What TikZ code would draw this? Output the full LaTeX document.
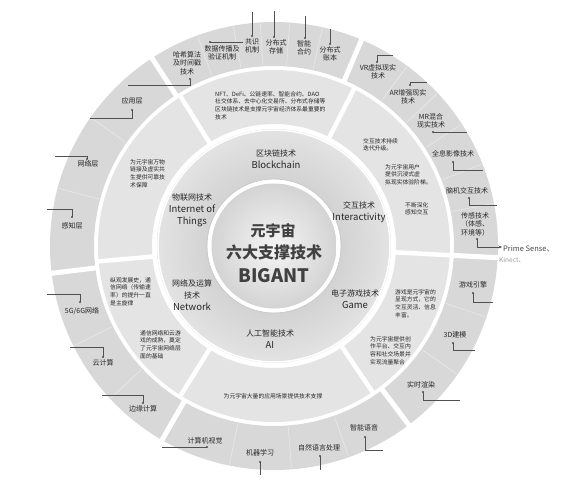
\documentclass[tikz,border=0pt]{standalone}
\usepackage{fontspec}
\setmainfont{Noto Sans CJK SC}
\usetikzlibrary{arrows.meta}
\definecolor{txt}{HTML}{262626}
\definecolor{ldr}{HTML}{505050}
\definecolor{ringO}{HTML}{D8D8D8}
\definecolor{ringM}{HTML}{E4E4E4}
\definecolor{ringI}{HTML}{D0D0D0}
\begin{document}
\begin{tikzpicture}[x=1pt,y=-1pt,
  lbl/.style={text=txt, font=\fontsize{7}{8.5}\selectfont, align=center, inner sep=0pt},
  desc/.style={text=txt, font=\fontsize{5.8}{7.7}\selectfont, align=left, inner sep=0pt, anchor=north west},
  tech/.style={text=txt, font=\fontsize{8}{12}\selectfont, align=center, inner sep=0pt},
  core/.style={text=black!75, font=\bfseries, align=center, inner sep=0pt},
  ldrline/.style={draw=ldr, line width=0.6pt},
  ldot/.style={circle, fill=ldr, inner sep=0pt, minimum size=2.2pt},
]
\useasboundingbox (0,0) rectangle (571,498);
\fill[white] (0,0) rectangle (571,498);

\begin{scope}[shift={(274,246)}, y=1pt]
  % outer ring
  \fill[ringO, even odd rule] (0,0) circle (224) (0,0) circle (180);
  % description ring
  \fill[ringM, even odd rule] (0,0) circle (176) (0,0) circle (122);
  % technology ring
  \shade[even odd rule, inner color=black!26, outer color=black!11] (0,0) circle (117) (0,0) circle (67);
  \draw[white, line width=1.5pt] (0,0) circle (116);
  % centre disc
  \draw[black!20, line width=1pt] (0,0) circle (67);
  \fill[white] (0,0) circle (66.3);
  \shade[inner color=black!4, outer color=black!17] (0,0) circle (62.5);
  % group separators
  \foreach \a in {123,67,-3,-53,-120,187}
    \draw[white, line width=5pt] (\a:177) -- (\a:227);
  \foreach \a in {122,63,-3,-56,-122,185}
    \draw[white, line width=4.5pt] (\a:119) -- (\a:179);
  % item separators (faint)
  \foreach \a in {110,100.5,93.5,86,77.5,53.5,43,33,21.5,11,-18.5,-35,-70.5,-85.5,-101.5,-137,-153.5,165,145}
    \draw[white, line width=0.6pt, opacity=0.45] (\a:181) -- (\a:223);
\end{scope}

% centre text
\node[core, font=\bfseries\fontsize{15}{15}\selectfont] (c1) at (273,231) {元宇宙};
\node[core, font=\bfseries\fontsize{16}{16}\selectfont] (c2) at (274,252) {六大支撑技术};
\node[core, font=\bfseries\fontsize{18.5}{18.5}\selectfont] (c3) at (274,276) {BIGANT};

% technology ring labels
\node[tech] (blk) at (276,159) {区块链技术\\{\fontsize{9.5}{12}\selectfont Blockchain}};
\node[tech] (itr) at (359,212.5) {交互技术\\{\fontsize{9.5}{12}\selectfont Interactivity}};
\node[tech] (gam) at (355,299) {电子游戏技术\\{\fontsize{9.5}{12}\selectfont Game}};
\node[tech] (ail) at (270,339.5) {人工智能技术\\{\fontsize{9.5}{12}\selectfont AI}};
\node[tech] (ntw) at (192,295) {网络及运算\\技术\\{\fontsize{9.5}{12}\selectfont Network}};
\node[tech] (iot) at (192,210) {物联网技术\\{\fontsize{9.5}{12}\selectfont Internet of}\\{\fontsize{9.5}{12}\selectfont Things}};

% description ring texts
\node[desc] (t1) at (215,91) {NFT、DeFi、公链速率、智能合约、DAO\\社交体系、去中心化交易所、分布式存储等\\区块链技术是支撑元宇宙经济体系最重要的\\技术};
\node[desc] (t2) at (363,138) {交互技术持续\\迭代升级。};
\node[desc] (t3) at (385,164) {为元宇宙用户\\提供沉浸式虚\\拟现实体验阶梯。};
\node[desc] (t4) at (405,202) {不断深化\\感知交互};
\node[desc] (t5) at (395,289) {游戏是元宇宙的\\呈现方式，它的\\交互灵活、信息\\丰富。};
\node[desc] (t6) at (370,336) {为元宇宙提供创\\作平台、交互内\\容和社交场景并\\实现流量聚合};
\node[desc, anchor=center] (t7) at (273,396) {为元宇宙大量的应用场景提供技术支撑};
\node[desc] (t8) at (110,277) {纵观发展史，通\\信网络（传输速\\率）的提升一直\\是主旋律};
\node[desc] (t9) at (140,330) {通信网络和云游\\戏的成熟，奠定\\了元宇宙网络层\\面的基础};
\node[desc] (t10) at (130,159) {为元宇宙万物\\链接及虚实共\\生提供可靠技\\术保障};

% outer ring labels
\node[lbl] (hash) at (187,63) {哈希算法\\及时间戳\\技术};
\node[lbl] (data) at (222,53) {数据传播及\\验证机制};
\node[lbl] (cons) at (252,46) {共识\\机制};
\node[lbl] (stor) at (276,47) {分布式\\存储};
\node[lbl] (cont) at (304,48) {智能\\合约};
\node[lbl] (ledg) at (330,54) {分布式\\账本};
\node[lbl] (vr) at (378,72) {VR虚拟现实\\技术};
\node[lbl] (ar) at (408,97) {AR增强现实\\技术};
\node[lbl] (mr) at (431,121) {MR混合\\现实技术};
\node[lbl] (holo) at (453,154) {全息影像技术};
\node[lbl] (bci) at (467,191) {脑机交互技术};
\node[lbl] (sens) at (475,224) {传感技术\\（体感、\\环境等）};
\node[lbl] (eng) at (473,285) {游戏引擎};
\node[lbl] (mdl) at (455,335) {3D建模};
\node[lbl] (rend) at (421,385) {实时渲染};
\node[lbl] (voice) at (364,428) {智能语音};
\node[lbl] (nlp) at (319,448) {自然语言处理};
\node[lbl] (ml) at (260,453) {机器学习};
\node[lbl] (cv) at (205,441) {计算机视觉};
\node[lbl] (edge) at (143,409) {边缘计算};
\node[lbl] (cloud) at (103,363) {云计算};
\node[lbl] (g5) at (82,311) {5G/6G网络};
\node[lbl] (perc) at (72,226) {感知层};
\node[lbl] (netl) at (88,164) {网络层};
\node[lbl] (app) at (132,101) {应用层};

% leader dots and ends
\node[ldot] (d1) at (190,79) {};   \coordinate (e1) at (128,85);
\node[ldot] (d2) at (210,42) {};   \coordinate (e2) at (243,42);
\node[ldot] (d3) at (252,36) {};   \coordinate (e3) at (252,12);
\node[ldot] (d4) at (274,37) {};   \coordinate (e4) at (274,11);
\node[ldot] (d5) at (305,38) {};   \coordinate (e5) at (305,16);
\node[ldot] (d6) at (330,44) {};   \coordinate (e6) at (330,29);
\node[ldot] (d7) at (377,62) {};   \coordinate (e7) at (393,55);
\node[ldot] (d8) at (410,85) {};   \coordinate (e8) at (427,82);
\node[ldot] (d9) at (433,132) {};  \coordinate (e9) at (467,132);
\node[ldot] (d10) at (453,162) {}; \coordinate (e10) at (483,170);
\node[ldot] (d11) at (469,198) {}; \coordinate (e11) at (497,205);
\node[ldot] (d12) at (477,239) {}; \coordinate (e12) at (502,247);
\node[ldot] (d13) at (473,293) {}; \coordinate (e13) at (493,302);
\node[ldot] (d14) at (453,343) {}; \coordinate (e14) at (475,350);
\node[ldot] (d15) at (423,392) {}; \coordinate (e15) at (460,400);
\node[ldot] (d16) at (365,437) {}; \coordinate (e16) at (383,450);
\node[ldot] (d17) at (320,456) {}; \coordinate (e17) at (320,470);
\node[ldot] (d18) at (260,462) {}; \coordinate (e18) at (260,475);
\node[ldot] (d19) at (207,447) {}; \coordinate (e19) at (162,447);
\node[ldot] (d20) at (143,403) {}; \coordinate (e20) at (102,395);
\node[ldot] (d21) at (103,357) {}; \coordinate (e21) at (70,347);
\node[ldot] (d22) at (80,302) {};  \coordinate (e22) at (47,294);
\node[ldot] (d23) at (72,217) {};  \coordinate (e23) at (47,209);
\node[ldot] (d24) at (87,159) {};  \coordinate (e24) at (55,156);
\node[ldot] (d25) at (132,110) {}; \coordinate (e25) at (90,118);

\draw[ldrline] (d1.center) |- (e1);
\draw[ldrline] (d2.center) -- (e2);
\draw[ldrline] (d3.center) -- (e3);
\draw[ldrline] (d4.center) -- (e4);
\draw[ldrline] (d5.center) -- (e5);
\draw[ldrline] (d6.center) -- (e6);
\draw[ldrline] (d7.center) |- (e7);
\draw[ldrline] (d8.center) |- (e8);
\draw[ldrline] (d9.center) -- (e9);
\draw[ldrline] (d10.center) |- (e10);
\draw[ldrline] (d11.center) |- (e11);
\draw[ldrline, -{Stealth[length=3.5pt,width=3pt]}] (d12.center) |- (e12);
\draw[ldrline] (d13.center) |- (e13);
\draw[ldrline] (d14.center) |- (e14);
\draw[ldrline] (d15.center) |- (e15);
\draw[ldrline] (d16.center) |- (e16);
\draw[ldrline] (d17.center) -- (e17);
\draw[ldrline] (d18.center) -- (e18);
\draw[ldrline] (d19.center) -- (e19);
\draw[ldrline] (d20.center) |- (e20);
\draw[ldrline] (d21.center) |- (e21);
\draw[ldrline] (d22.center) |- (e22);
\draw[ldrline] (d23.center) |- (e23);
\draw[ldrline] (d24.center) |- (e24);
\draw[ldrline] (d25.center) |- (e25);

% external note
\node[anchor=west, inner sep=0pt, text=black!72, font=\fontsize{7.5}{9}\selectfont] (ps) at (503,249) {Prime Sense、};
\node[anchor=west, inner sep=0pt, text=black!40, font=\fontsize{6.5}{8}\selectfont] (kin) at (499,260) {Kinect、};
\end{tikzpicture}
\end{document}
